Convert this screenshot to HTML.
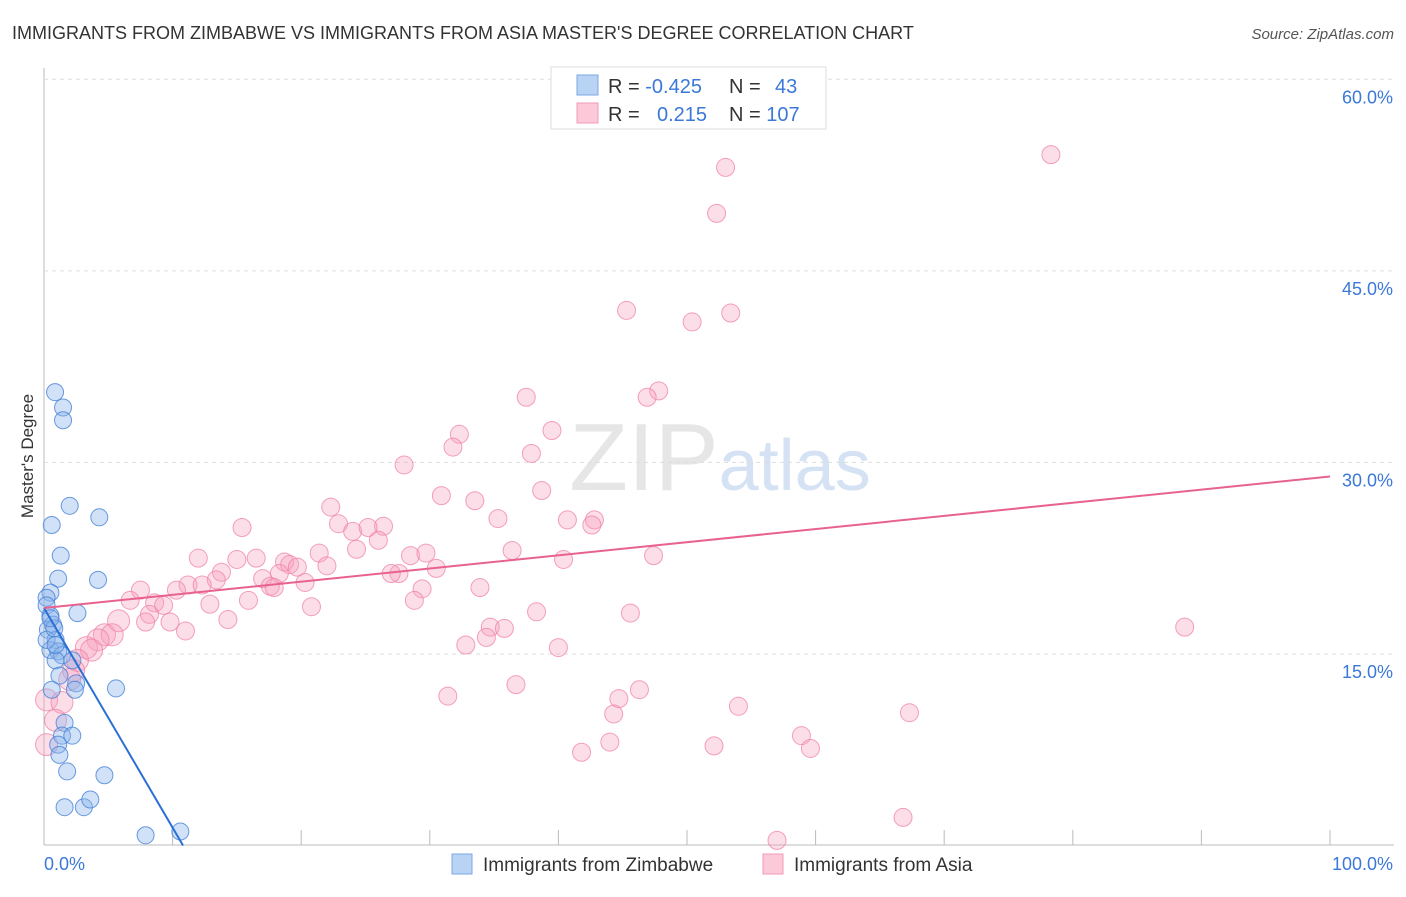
<!DOCTYPE html>
<html><head><meta charset="utf-8"><style>
body{margin:0;background:#fff;width:1406px;height:892px;overflow:hidden;font-family:"Liberation Sans",sans-serif}
svg text{font-family:"Liberation Sans",sans-serif}
</style></head><body>
<svg id="chart" width="1406" height="892" xmlns="http://www.w3.org/2000/svg">
<text x="12" y="39" font-size="18" fill="#333">IMMIGRANTS FROM ZIMBABWE VS IMMIGRANTS FROM ASIA MASTER'S DEGREE CORRELATION CHART</text>
<text x="1394" y="39" font-size="15" fill="#555" text-anchor="end" font-style="italic">Source: ZipAtlas.com</text>
<text x="720" y="490" font-size="96" fill="#e6e6e6" text-anchor="middle" font-family="Liberation Serif">ZIP<tspan fill="#d4e2f4" font-family="Liberation Sans" font-size="72">atlas</tspan></text>
<text transform="translate(33,456) rotate(-90)" font-size="17" fill="#333" text-anchor="middle">Master's Degree</text>
<g id="grid"></g><g id="pts"></g><g id="lines"></g>
<g>
<rect x="551" y="67" width="275" height="62" fill="#fff" stroke="#ddd"/>
<rect x="577" y="75" width="21" height="20" fill="#b9d3f5" stroke="#7aa7e6"/>
<rect x="577" y="103" width="21" height="20" fill="#fcc9d8" stroke="#f09ab5"/>
<text x="608" y="93" font-size="20" fill="#333">R = <tspan fill="#3b78d8">-0.425</tspan></text>
<text x="729" y="93" font-size="20" fill="#333">N = <tspan x="775" fill="#3b78d8">43</tspan></text>
<text x="608" y="121" font-size="20" fill="#333">R = <tspan x="657" fill="#3b78d8">0.215</tspan></text>
<text x="729" y="121" font-size="20" fill="#333">N = <tspan fill="#3b78d8">107</tspan></text>
</g>
<g>
<rect x="452" y="854" width="20" height="20" fill="#b9d3f5" stroke="#7aa7e6"/>
<text x="483" y="871" font-size="19" fill="#333">Immigrants from Zimbabwe</text>
<rect x="763" y="854" width="20" height="20" fill="#fcc9d8" stroke="#f09ab5"/>
<text x="794" y="871" font-size="19" fill="#333">Immigrants from Asia</text>
</g>
</svg>
<script>
const yTicks=[15,30,45,60];
const yTickLabels=["15.0%","30.0%","45.0%","60.0%"];
const xTicks=[0,10,20,30,40,50,60,70,80,90,100];
const blueX=[0.86,1.48,1.48,2.0,4.3,0.6,1.3,1.1,4.2,0.5,2.6,0.2,0.2,0.5,0.7,0.3,0.9,0.5,1.1,1.4,0.9,1.2,0.6,2.2,2.5,5.6,1.6,1.4,2.2,1.1,1.2,1.8,4.7,1.6,3.1,3.6,7.9,10.6,0.2,0.8,0.5,0.9,2.4];
const blueY=[35.5,34.3,33.3,26.6,25.7,25.1,22.7,20.9,20.8,19.8,18.2,19.4,18.8,18.0,17.3,16.9,16.1,15.3,15.2,14.9,14.5,13.3,12.2,14.5,12.7,12.3,9.6,8.6,8.6,7.9,7.1,5.8,5.5,3.0,3.0,3.6,0.8,1.1,16.1,17.0,17.8,15.7,12.2];
const pinkX=[78.3,53.0,52.3,45.3,50.4,53.4,47.8,46.9,37.5,32.3,31.8,39.5,37.9,28.0,38.7,30.9,33.5,22.3,35.3,40.7,42.8,42.6,22.9,15.4,24.0,26.4,25.2,26.0,36.4,40.4,47.4,21.4,12.0,16.5,24.3,15.0,28.5,29.7,18.7,19.1,19.7,22.0,18.3,13.8,27.6,30.5,27.0,17.0,17.6,20.3,13.4,11.2,12.3,17.9,10.3,33.9,29.4,7.5,6.7,8.6,9.3,12.9,15.9,28.8,20.8,38.3,45.6,14.3,8.2,5.8,7.9,9.8,11.0,34.7,35.8,34.4,4.7,5.3,4.2,32.8,40.0,3.3,3.7,2.6,2.3,36.7,0.2,1.4,46.3,31.4,44.7,54.0,44.3,67.3,88.7,58.9,59.6,52.1,44.0,41.8,0.2,0.9,66.8,57.0,2.0];
const pinkY=[54.1,53.1,49.5,41.9,41.0,41.7,35.6,35.1,35.1,32.2,31.2,32.5,30.7,29.8,27.8,27.4,27.0,26.5,25.6,25.5,25.5,25.1,25.2,24.9,24.6,25.0,24.9,23.9,23.1,22.4,22.7,22.9,22.5,22.5,23.2,22.4,22.7,22.9,22.2,22.0,21.8,21.9,21.3,21.4,21.3,21.7,21.3,20.9,20.3,20.6,20.8,20.4,20.4,20.2,20.0,20.2,20.1,20.0,19.2,19.0,18.8,18.9,19.2,19.2,18.7,18.3,18.2,17.7,18.1,17.6,17.5,17.5,16.8,17.1,17.0,16.3,16.5,16.5,16.1,15.7,15.5,15.5,15.3,14.5,13.7,12.6,11.4,11.2,12.2,11.7,11.5,10.9,10.3,10.4,17.1,8.6,7.6,7.8,8.1,7.3,7.9,9.8,2.2,0.4,13.0];
const blueFit=[18.6,-1.72];
const pinkFit=[18.6,0.103];
const NS="http://www.w3.org/2000/svg";
const X=v=>44+v*12.86, Y=v=>845.5-v*12.77;
function mk(t,a,p){const e=document.createElementNS(NS,t);for(const k in a)e.setAttribute(k,a[k]);p.appendChild(e);return e;}
const g=document.getElementById('grid');
const ax=mk('line',{x1:44,y1:68,x2:44,y2:845,stroke:'#bbb'},g);


const bx=mk('line',{x1:44,y1:845,x2:1394,y2:845,stroke:'#bbb'},g);


yTicks.forEach((t,i)=>{
 const l=mk('line',{x1:44,x2:1394,y1:Y(t),y2:Y(t),stroke:'#ddd','stroke-dasharray':'4,4'},g);
 
 
 const tx=mk('text',{x:1393,y:Y(t)+24,'font-size':18,fill:'#3b78d8','text-anchor':'end'},g);
 tx.textContent=yTickLabels[i];
 
 
});
xTicks.forEach(t=>{
 const l=mk('line',{x1:X(t),x2:X(t),y1:830,y2:845,stroke:'#bbb'},g);
 
 
});
const x0=mk('text',{x:44,y:870,'font-size':18,fill:'#3b78d8'},g);x0.textContent='0.0%';


const x1=mk('text',{x:1393,y:870,'font-size':18,fill:'#3b78d8','text-anchor':'end'},g);x1.textContent='100.0%';


const P=document.getElementById('pts');
pinkX.forEach((v,i)=>{
 const c=mk('circle',{cx:X(v),cy:Y(pinkY[i]),r:v<6?11:9,fill:'rgba(246,160,188,0.35)',stroke:'rgba(240,130,165,0.75)','stroke-width':1},P);
 
 
});
blueX.forEach((v,i)=>{
 const c=mk('circle',{cx:X(v),cy:Y(blueY[i]),r:8.5,fill:'rgba(140,180,235,0.4)',stroke:'rgba(70,130,215,0.8)','stroke-width':1},P);
 
 
});
const L=document.getElementById('lines');
const bEnd=-blueFit[0]/blueFit[1];
const bl=mk('line',{x1:X(0),y1:Y(blueFit[0]),x2:X(bEnd),y2:Y(0),stroke:'#2a6fd6','stroke-width':2},L);


const pl=mk('line',{x1:X(0),y1:Y(pinkFit[0]),x2:X(100),y2:Y(pinkFit[0]+pinkFit[1]*100),stroke:'#e8628f','stroke-width':2},L);


</script>
</body></html>
